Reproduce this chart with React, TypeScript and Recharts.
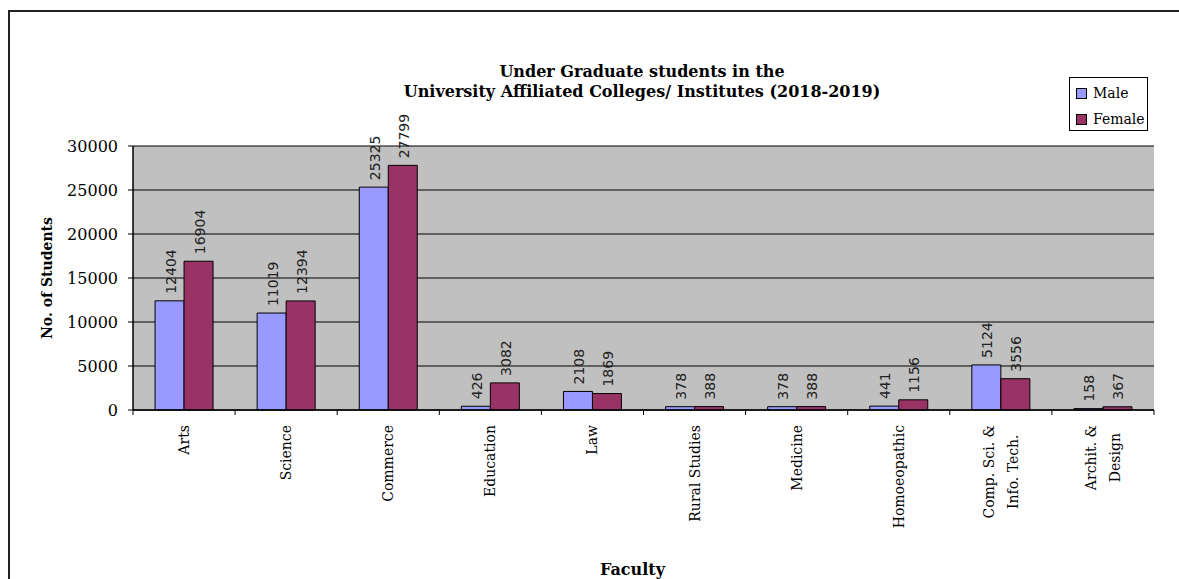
import React from "react";
import { BarChart, Bar, XAxis, YAxis, CartesianGrid, Legend, LabelList } from "recharts";

const faculties = [
  "Arts",
  "Science",
  "Commerce",
  "Education",
  "Law",
  "Rural Studies",
  "Medicine",
  "Homoeopathic",
  "Comp. Sci. &\nInfo. Tech.",
  "Archit. &\nDesign",
];
const male = [12404, 11019, 25325, 426, 2108, 378, 378, 441, 5124, 158];
const female = [16904, 12394, 27799, 3082, 1869, 388, 388, 1156, 3556, 367];
const yTicks = [0, 5000, 10000, 15000, 20000, 25000, 30000];
const seriesNames = ["Male", "Female"];

const data = faculties.map((name, i) => ({ name, male: male[i], female: female[i] }));

const SERIF = "'DejaVu Serif', serif";
const SANS = "'DejaVu Sans', sans-serif";

let ctx: CanvasRenderingContext2D | null = null;
function textWidth(s: string, font: string) {
  if (!ctx) ctx = document.createElement("canvas").getContext("2d");
  if (!ctx) return s.length * 7;
  ctx.font = font;
  return ctx.measureText(s).width;
}

function FacultyTick(props: any) {
  const { x, y, payload } = props;
  const half = payload && payload.offset ? payload.offset : 0;
  const lines = String(payload.value).split("\n");
  const font = `14px ${SERIF}`;
  const longest = Math.max(...lines.map((l) => textWidth(l, font)));
  const gap = 24;
  return (
    <g>
      <line x1={x + half} x2={x + half} y1={y} y2={y + 5} stroke="#000" />
      {payload.index === 0 && <line x1={x - half} x2={x - half} y1={y} y2={y + 5} stroke="#000" />}
      {lines.map((l, i) => (
        <text
          key={i}
          transform={`translate(${x + (i - (lines.length - 1) / 2) * gap},${y + 15}) rotate(-90)`}
          x={lines.length > 1 ? -longest / 2 : 0}
          textAnchor={lines.length > 1 ? "middle" : "end"}
          dominantBaseline="central"
          fontFamily={SERIF}
          fontSize={14}
          fill="#000"
        >
          {l}
        </text>
      ))}
    </g>
  );
}

function ValueLabel(props: any) {
  const { x, y, width, value } = props;
  const cx = Number(x) + Number(width) / 2 + 1;
  const cy = Number(y) - 7;
  return (
    <text
      transform={`translate(${cx},${cy}) rotate(-90)`}
      textAnchor="start"
      dominantBaseline="central"
      fontFamily={SANS}
      fontSize={14}
      fill="#222"
    >
      {value}
    </text>
  );
}

function LegendBox(props: any) {
  const items = [...(props.payload || [])].sort(
    (a: any, b: any) => seriesNames.indexOf(a.value) - seriesNames.indexOf(b.value)
  );
  return (
    <div
      style={{
        width: 79,
        height: 54,
        boxSizing: "border-box",
        border: "1px solid #000",
        background: "#fff",
        padding: "2px 0 0 6px",
        fontFamily: SERIF,
        fontSize: 14,
        color: "#000",
      }}
    >
      {items.map((p: any) => (
        <div key={p.value} style={{ display: "flex", alignItems: "center", height: 26 }}>
          <span
            style={{
              width: 9,
              height: 9,
              background: p.color,
              border: "1px solid #000",
              marginRight: 6,
              display: "inline-block",
            }}
          />
          {p.value}
        </div>
      ))}
    </div>
  );
}

export default function App() {
  return (
    <div style={{ position: "fixed", left: 0, top: 0, width: 1179, height: 579, overflow: "hidden", background: "#fff" }}>
      <div
        style={{
          position: "absolute",
          left: 8,
          top: 10,
          width: 1300,
          height: 700,
          borderLeft: "2px solid #222",
          borderTop: "2px solid #222",
        }}
      />
      <div
        style={{
          position: "absolute",
          left: 242,
          width: 800,
          top: 62,
          textAlign: "center",
          fontFamily: SERIF,
          fontWeight: "bold",
          fontSize: 16,
          lineHeight: "20px",
          color: "#000",
        }}
      >
        <div>Under Graduate students in the</div>
        <div>University Affiliated Colleges/ Institutes (2018-2019)</div>
      </div>
      <div style={{ position: "absolute", left: 0, top: 0 }}>
        <BarChart
          width={1179}
          height={579}
          data={data}
          margin={{ top: 146, right: 25, bottom: 29, left: 0 }}
          barCategoryGap="21.6%"
          barGap={0}
        >
          <CartesianGrid vertical={false} stroke="#000" fill="#C0C0C0" fillOpacity={1} />
          <XAxis
            dataKey="name"
            interval={0}
            height={140}
            tickSize={0}
            tickMargin={0}
            tickLine={false}
            axisLine={{ stroke: "#000", strokeWidth: 1.5 }}
            tick={<FacultyTick />}
            label={(p: any) => {
              const vb = p.viewBox || {};
              return (
                <text
                  x={vb.x + vb.width / 2 - 11}
                  y={vb.y + 159}
                  textAnchor="middle"
                  dominantBaseline="central"
                  fontFamily={SERIF}
                  fontWeight="bold"
                  fontSize={16}
                  fill="#000"
                >
                  Faculty
                </text>
              );
            }}
          />
          <XAxis xAxisId="top" dataKey="name" orientation="top" height={0} tick={false} tickLine={false} axisLine={{ stroke: "#808080", strokeWidth: 2 }} />
          <YAxis
            width={133}
            domain={[0, 30000]}
            ticks={yTicks}
            interval={0}
            tickSize={5}
            tickMargin={10}
            axisLine={{ stroke: "#000", strokeWidth: 1.5 }}
            tickLine={{ stroke: "#000" }}
            tick={{ fontFamily: SERIF, fontSize: 16, fill: "#000" }}
            label={(p: any) => {
              const vb = p.viewBox || {};
              const cx = vb.x + 47;
              const cy = vb.y + vb.height / 2;
              return (
                <text
                  transform={`translate(${cx},${cy}) rotate(-90)`}
                  textAnchor="middle"
                  dominantBaseline="central"
                  fontFamily={SERIF}
                  fontWeight="bold"
                  fontSize={14}
                  fill="#000"
                >
                  No. of Students
                </text>
              );
            }}
          />
          <YAxis yAxisId="right" orientation="right" width={0} domain={[0, 30000]} tick={false} tickLine={false} axisLine={{ stroke: "#808080", strokeWidth: 2 }} />
          <Legend
            layout="vertical"
            align="center"
            verticalAlign="middle"
            content={<LegendBox />}
            wrapperStyle={{ left: 1069, top: 77, right: "auto", bottom: "auto", width: "auto" }}
          />
          <Bar dataKey="male" name="Male" fill="#9999FF" stroke="#000" strokeWidth={1} isAnimationActive={false}>
            <LabelList dataKey="male" content={<ValueLabel />} />
          </Bar>
          <Bar dataKey="female" name="Female" fill="#993366" stroke="#000" strokeWidth={1} isAnimationActive={false}>
            <LabelList dataKey="female" content={<ValueLabel />} />
          </Bar>
        </BarChart>
      </div>
    </div>
  );
}
